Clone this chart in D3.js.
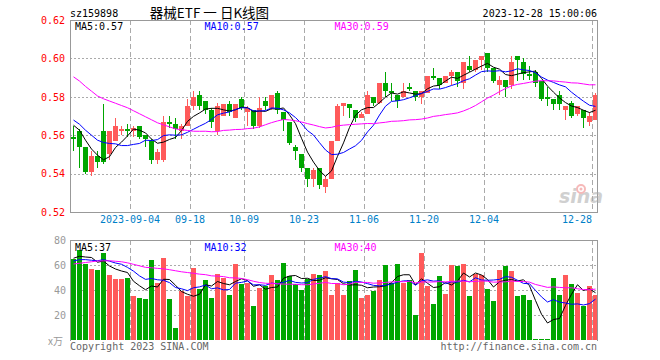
<!DOCTYPE html>
<html><head><meta charset="utf-8">
<script src="https://cdn.jsdelivr.net/npm/d3@7"></script>
<style>body{margin:0;background:#fff}svg{display:block}</style>
</head><body>
<svg id="c" width="660" height="360"></svg>
<script>
// ---- data ----
const dates = [
"2023-08-21","2023-08-22","2023-08-23","2023-08-24","2023-08-25","2023-08-28","2023-08-29","2023-08-30","2023-08-31","2023-09-01",
"2023-09-04","2023-09-05","2023-09-06","2023-09-07","2023-09-08","2023-09-11","2023-09-12","2023-09-13","2023-09-14","2023-09-15",
"2023-09-18","2023-09-19","2023-09-20","2023-09-21","2023-09-22","2023-09-25","2023-09-26","2023-09-27","2023-09-28","2023-10-09",
"2023-10-10","2023-10-11","2023-10-12","2023-10-13","2023-10-16","2023-10-17","2023-10-18","2023-10-19","2023-10-20","2023-10-23",
"2023-10-24","2023-10-25","2023-10-26","2023-10-27","2023-10-30","2023-10-31","2023-11-01","2023-11-02","2023-11-03","2023-11-06",
"2023-11-07","2023-11-08","2023-11-09","2023-11-10","2023-11-13","2023-11-14","2023-11-15","2023-11-16","2023-11-17","2023-11-20",
"2023-11-21","2023-11-22","2023-11-23","2023-11-24","2023-11-27","2023-11-28","2023-11-29","2023-11-30","2023-12-01","2023-12-04",
"2023-12-05","2023-12-06","2023-12-07","2023-12-08","2023-12-11","2023-12-12","2023-12-13","2023-12-14","2023-12-15","2023-12-18",
"2023-12-19","2023-12-20","2023-12-21","2023-12-22","2023-12-25","2023-12-26","2023-12-27","2023-12-28"];
const open = [0.559,0.562,0.554,0.541,0.549,0.562,0.550,0.557,0.562,0.563,
0.562,0.565,0.560,0.557,0.547,0.547,0.567,0.566,0.562,0.565,
0.575,0.581,0.578,0.573,0.562,0.570,0.576,0.569,0.579,0.572,
0.573,0.565,0.578,0.574,0.582,0.572,0.567,0.554,0.550,0.543,
0.537,0.543,0.533,0.537,0.557,0.575,0.576,0.573,0.569,0.571,
0.580,0.577,0.587,0.583,0.581,0.580,0.585,0.583,0.580,0.582,
0.591,0.590,0.587,0.591,0.593,0.587,0.596,0.594,0.599,0.603,
0.595,0.586,0.589,0.586,0.601,0.598,0.592,0.593,0.588,0.580,
0.579,0.581,0.573,0.577,0.571,0.573,0.567,0.568];
const high = [0.565,0.563,0.554,0.552,0.552,0.576,0.562,0.569,0.565,0.566,
0.565,0.565,0.560,0.558,0.553,0.570,0.570,0.569,0.566,0.579,
0.583,0.583,0.578,0.574,0.577,0.576,0.578,0.576,0.580,0.575,
0.573,0.580,0.580,0.581,0.583,0.572,0.567,0.555,0.550,0.543,
0.543,0.543,0.539,0.557,0.576,0.577,0.576,0.573,0.572,0.583,
0.580,0.587,0.593,0.587,0.581,0.587,0.587,0.583,0.583,0.591,
0.595,0.590,0.591,0.594,0.593,0.598,0.601,0.599,0.601,0.603,
0.595,0.591,0.589,0.601,0.601,0.600,0.596,0.594,0.588,0.585,
0.579,0.583,0.575,0.578,0.575,0.573,0.572,0.582];
const low = [0.552,0.543,0.540,0.539,0.543,0.545,0.547,0.557,0.560,0.559,
0.559,0.558,0.554,0.545,0.545,0.546,0.564,0.558,0.558,0.565,
0.573,0.573,0.571,0.564,0.560,0.570,0.570,0.569,0.573,0.565,
0.563,0.564,0.573,0.573,0.571,0.562,0.555,0.547,0.541,0.533,
0.533,0.532,0.530,0.537,0.557,0.570,0.569,0.567,0.569,0.571,
0.575,0.576,0.580,0.578,0.574,0.580,0.583,0.578,0.576,0.582,
0.589,0.584,0.587,0.586,0.585,0.584,0.593,0.593,0.594,0.593,
0.587,0.581,0.580,0.584,0.588,0.589,0.589,0.585,0.578,0.575,
0.573,0.573,0.568,0.569,0.570,0.564,0.565,0.568];
const close = [0.558,0.554,0.541,0.549,0.546,0.546,0.562,0.565,0.563,0.562,
0.564,0.559,0.558,0.547,0.551,0.567,0.566,0.563,0.565,0.575,
0.580,0.575,0.573,0.567,0.575,0.576,0.572,0.576,0.574,0.574,
0.565,0.574,0.575,0.581,0.573,0.568,0.556,0.552,0.543,0.537,
0.542,0.534,0.537,0.557,0.575,0.577,0.574,0.569,0.571,0.581,
0.577,0.587,0.583,0.582,0.578,0.583,0.584,0.580,0.583,0.591,
0.590,0.586,0.591,0.593,0.588,0.598,0.594,0.599,0.601,0.595,
0.588,0.589,0.585,0.598,0.599,0.592,0.591,0.587,0.579,0.579,
0.576,0.576,0.575,0.570,0.575,0.569,0.570,0.581];
const volume = [65,72,61,57,56,70,52,49,49,50,
35,34,33,64,46,66,33,10,39,35,
58,41,48,34,53,50,36,61,45,46,
27,42,43,52,48,62,51,45,40,49,
53,52,55,36,46,36,47,56,34,36,
39,48,60,46,61,46,48,20,70,43,
29,51,37,60,59,61,35,53,52,41,
31,56,59,55,35,36,32,0,0,0,
50,36,52,45,38,27,43,36];
// closes / volumes before the window (estimated from where the MA lines start)
const priorClose = [0.620,0.625,0.623,0.621,0.590,0.597,0.600,0.598,0.597,
0.611,0.606,0.605,0.594,0.598,0.599,0.598,0.595,0.577,0.587,0.592,
0.576,0.572,0.575,0.572,0.558,0.567,0.567,0.572,0.562];
const priorVolume = [54,43,39,38,67,49,61,61,76,71,70,69,74,61,77,54,35,64,53,76,
61,61,62,60,61,64,64,59,75];
const priceTicks = [0.52,0.54,0.56,0.58,0.60,0.62];
const volTicks = [20,40,60,80];
const dateTicks = ["2023-09-04","2023-09-18","2023-10-09","2023-10-23","2023-11-06","2023-11-20","2023-12-04","2023-12-28"];
const dateTickLabels = ["2023-09-04","09-18","10-09","10-23","11-06","11-20","12-04","12-28"];
const maPeriods = [5,10,30];

// ---- drawing ----
const RED="#ff5a5a", GREEN="#00a600", GRID="#aaaaaa", FRAME="#999999";
const maColors=["#000000","#0000ff","#ff00ff"];
const MONO="'DejaVu Sans Mono', monospace";
const L=70, PT=20, PB=212, VT=240, VB=340;
const n=close.length;
const svg=d3.select("#c");
const idx=d3.range(n);
const x=d3.scaleBand().domain(idx).range([L, L+6*n]);
const R=L+6*n-1;
const y=d3.scaleLinear().domain([0.52,0.62]).range([PB,PT]);
const yv=d3.scaleLinear().domain([0,80]).range([VB,VT]);

function ma(series, prior, p){
  const all=prior.concat(series), o=prior.length;
  return series.map((_,i)=>d3.mean(all.slice(o+i-p+1,o+i+1)));
}
const priceMA=maPeriods.map(p=>ma(close,priorClose,p));
const volMA=maPeriods.map(p=>ma(volume,priorVolume,p));
const px=v=>Math.round(v)+0.5;

// grids
const g=svg.append("g");
const tickIdx=dateTicks.map(d=>dates.indexOf(d));
[[PT,PB],[VT,VB]].forEach(([a,b])=>{
  g.selectAll(null).data(tickIdx).join("line")
   .attr("x1",i=>x(i)+0.5).attr("x2",i=>x(i)+0.5).attr("y1",a).attr("y2",b)
   .attr("stroke",GRID).attr("stroke-dasharray","5,3");
});
g.selectAll(null).data(priceTicks.slice(1,-1)).join("line")
 .attr("x1",L).attr("x2",R).attr("y1",d=>px(y(d))).attr("y2",d=>px(y(d)))
 .attr("stroke",GRID).attr("stroke-dasharray","2,2");
g.selectAll(null).data(volTicks.slice(0,-1)).join("line")
 .attr("x1",L).attr("x2",R).attr("y1",d=>px(yv(d))).attr("y2",d=>px(yv(d)))
 .attr("stroke",GRID).attr("stroke-dasharray","2,2");

// candles
const cg=svg.append("g").attr("shape-rendering","crispEdges");
const col=i=>close[i]>open[i]?RED:GREEN;
cg.selectAll(null).data(idx).join("line")
  .attr("x1",i=>x(i)+3.5).attr("x2",i=>x(i)+3.5)
  .attr("y1",i=>y(high[i])).attr("y2",i=>y(low[i])).attr("stroke",col);
cg.selectAll(null).data(idx).join("rect")
  .attr("x",i=>x(i)+1).attr("width",5)
  .attr("y",i=>y(Math.max(open[i],close[i])))
  .attr("height",i=>Math.max(1,Math.abs(y(open[i])-y(close[i]))))
  .attr("fill",col);

// volume bars
cg.selectAll(null).data(idx).join("rect")
  .attr("x",i=>x(i)+1).attr("width",5)
  .attr("y",i=>Math.min(yv(volume[i]),VB-1))
  .attr("height",i=>Math.max(1,VB-yv(volume[i])))
  .attr("fill",col);

// MA lines
const lg=svg.append("g").attr("fill","none");
priceMA.forEach((s,k)=>lg.append("path").datum(s)
  .attr("d",d3.line().x((d,i)=>x(i)+3.5).y(d=>y(d)))
  .attr("stroke",maColors[k]).attr("stroke-width",1));
volMA.forEach((s,k)=>lg.append("path").datum(s)
  .attr("d",d3.line().x((d,i)=>x(i)+3.5).y(d=>yv(d)))
  .attr("stroke",maColors[k]).attr("stroke-width",1));

// frames
const fg=svg.append("g").attr("fill","none").attr("stroke",FRAME).attr("shape-rendering","crispEdges");
fg.append("rect").attr("x",L+0.5).attr("y",PT+0.5).attr("width",R-L).attr("height",PB-PT);
fg.append("path").attr("d",`M${L+0.5},${VB+0.5}V${VT+0.5}H${R+0.5}V${VB+0.5}`);

// axes
const ax=svg.append("g").attr("transform",`translate(${L},0)`)
  .call(d3.axisLeft(y).tickValues(priceTicks).tickFormat(d3.format(".2f")).tickSize(0).tickPadding(5));
ax.select(".domain").remove();
ax.selectAll("text").attr("fill","#ff0000").style("font-family",MONO).style("font-size","10px");
const axv=svg.append("g").attr("transform",`translate(${L-1},0)`)
  .call(d3.axisLeft(yv).tickValues(volTicks).tickSize(0).tickPadding(3));
axv.select(".domain").remove();
axv.selectAll("text").attr("fill","#999").style("font-family",MONO).style("font-size","10px");
const axd=svg.append("g").attr("transform",`translate(-3,${PB+4})`)
  .call(d3.axisBottom(x).tickValues(tickIdx).tickFormat((d,k)=>dateTickLabels[k]).tickSize(0).tickPadding(0));
axd.select(".domain").remove();
axd.selectAll("text").attr("fill","#0080c8").style("font-family",MONO).style("font-size","10px");
// keep the last date label inside the frame: right-align it on its gridline
axd.selectAll(".tick").filter(d=>d===n-1).select("text").attr("text-anchor","end").attr("dx","0");

// texts
const T=(t,xx,yy,opt={})=>svg.append("text").text(t).attr("x",xx).attr("y",yy)
  .attr("dominant-baseline","central").attr("text-anchor",opt.a||"start")
  .attr("fill",opt.c||"#000").style("font-family",opt.f||MONO).style("font-size",(opt.s||10)+"px");
T("sz159898",L,13);
T("器械ETF 一 日K线图",209.5,12,{a:"middle",f:"'Noto Sans CJK SC'",s:13.5});
T("2023-12-28 15:00:06",R,13,{a:"end"});
const fmt2=d3.format(".2f");
const last=n-1;
[75,204.5,334.5].forEach((xx,k)=>{
  T(`MA${maPeriods[k]}:${fmt2(priceMA[k][last])}`,xx,26,{c:maColors[k]});
  T(`MA${maPeriods[k]}:${Math.floor(volMA[k][last])}`,xx,247,{c:maColors[k]});
});
T("x万",63,340,{a:"end",c:"#999",f:"'Noto Sans CJK SC'",s:10});
T("Copyright 2023 SINA.COM",L,346,{c:"#666"});
T("http://finance.sina.com.cn",R,346,{a:"end",c:"#666"});

// sina watermark
const wm=svg.append("g").attr("opacity",0.55);
wm.append("text").text("sina").attr("x",581).attr("y",203).attr("text-anchor","middle")
  .style("font-family","'DejaVu Sans'").style("font-size","19px").style("font-weight","bold").style("font-style","italic")
  .attr("fill","#aaaaaa");
wm.append("circle").attr("cx",581).attr("cy",189).attr("r",4).attr("fill","none").attr("stroke","#f08080").attr("stroke-width",2);
wm.append("circle").attr("cx",581).attr("cy",189).attr("r",1.5).attr("fill","#f08080");
</script>
</body></html>
